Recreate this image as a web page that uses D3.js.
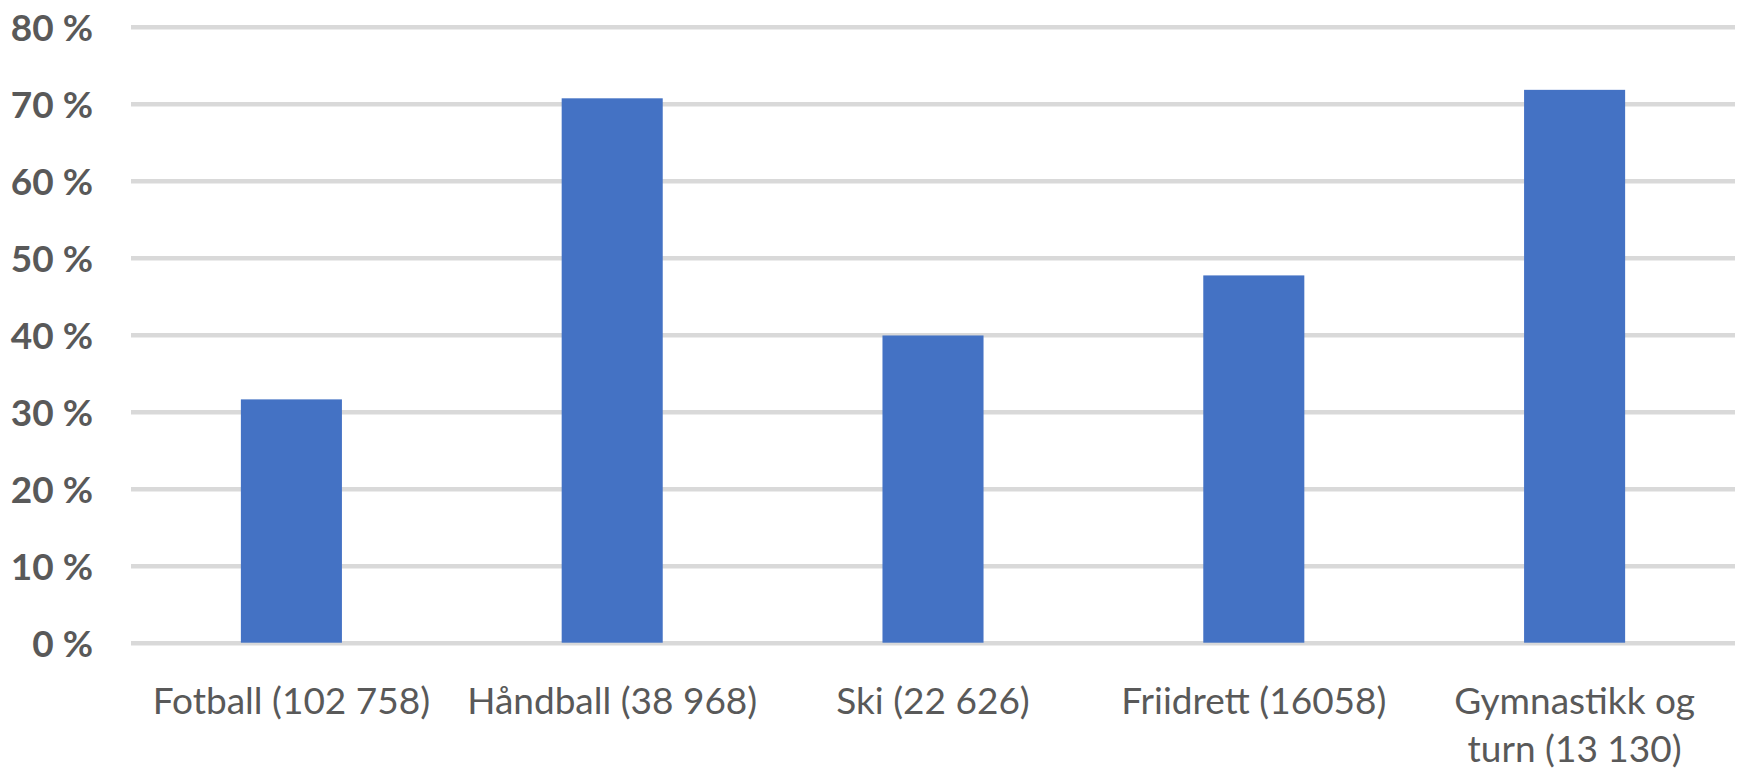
<!DOCTYPE html>
<html>
<head>
<meta charset="utf-8">
<script src="https://cdn.jsdelivr.net/npm/d3@7"></script>
<style>
  body { margin: 0; background: #fff; }
  svg text { font-family: Lato, "Open Sans", sans-serif; fill: #595959; }
</style>
</head>
<body>
<div id="chart"></div>
<script>
// share of members per sport (members in parentheses)
var categories = ["Fotball (102 758)", "Håndball (38 968)", "Ski (22 626)", "Friidrett (16058)", "Gymnastikk og\nturn (13 130)"];
var shares = [0.316, 0.707, 0.399, 0.477, 0.718];
var yTicks = [0, 0.1, 0.2, 0.3, 0.4, 0.5, 0.6, 0.7, 0.8];

var width = 1738;
var height = 769;
var marginLeft = 131;
var marginRight = 3;
var marginTop = 26.7;
var plotHeight = 616;

var svg = d3.select("#chart").append("svg")
    .attr("width", width)
    .attr("height", height);

var g = svg.append("g").attr("transform", "translate(" + marginLeft + "," + marginTop + ")");
var plotWidth = width - marginLeft - marginRight;

var xScale = d3.scaleBand()
    .domain(categories)
    .range([0, plotWidth])
    .paddingInner(0.685)
    .paddingOuter(0.3425);

var yScale = d3.scaleLinear()
    .domain([0, 0.8])
    .range([plotHeight, 0]);

// gridlines + y labels
var yAxis = g.append("g")
    .attr("class", "y axis")
    .call(d3.axisLeft(yScale)
        .tickValues(yTicks)
        .tickSize(-plotWidth)
        .tickPadding(38)
        .tickFormat(function(d){ return Math.round(d * 100) + " %"; }));
yAxis.select(".domain").remove();
yAxis.selectAll(".tick line").attr("stroke", "#d9d9d9").attr("stroke-width", 4.5);
yAxis.selectAll(".tick text")
    .attr("font-size", 37)
    .attr("font-weight", "bold")
    .attr("dy", "0.36em")
    .style("font-family", "Lato, 'Open Sans', sans-serif")
    .attr("fill", "#595959");

g.selectAll(".bar")
    .data(shares)
    .enter().append("rect")
    .attr("class", "bar")
    .attr("x", function(d, i){ return xScale(categories[i]); })
    .attr("y", function(d){ return yScale(d); })
    .attr("width", xScale.bandwidth())
    .attr("height", function(d){ return plotHeight - yScale(d); })
    .attr("fill", "#4472c4");

// category labels, may wrap to two lines
var xAxis = g.append("g")
    .attr("class", "x axis")
    .attr("transform", "translate(0," + plotHeight + ")")
    .call(d3.axisBottom(xScale).tickSize(0).tickFormat(""));
xAxis.select(".domain").remove();
xAxis.selectAll(".tick").each(function(d){
    var lines = d.split("\n");
    var t = d3.select(this).append("text")
        .attr("text-anchor", "middle")
        .attr("font-size", 37)
        .attr("fill", "#595959");
    lines.forEach(function(line, i){
        t.append("tspan")
            .attr("x", 0)
            .attr("y", 71 + i * 48)
            .text(line);
    });
});
</script>
</body>
</html>
